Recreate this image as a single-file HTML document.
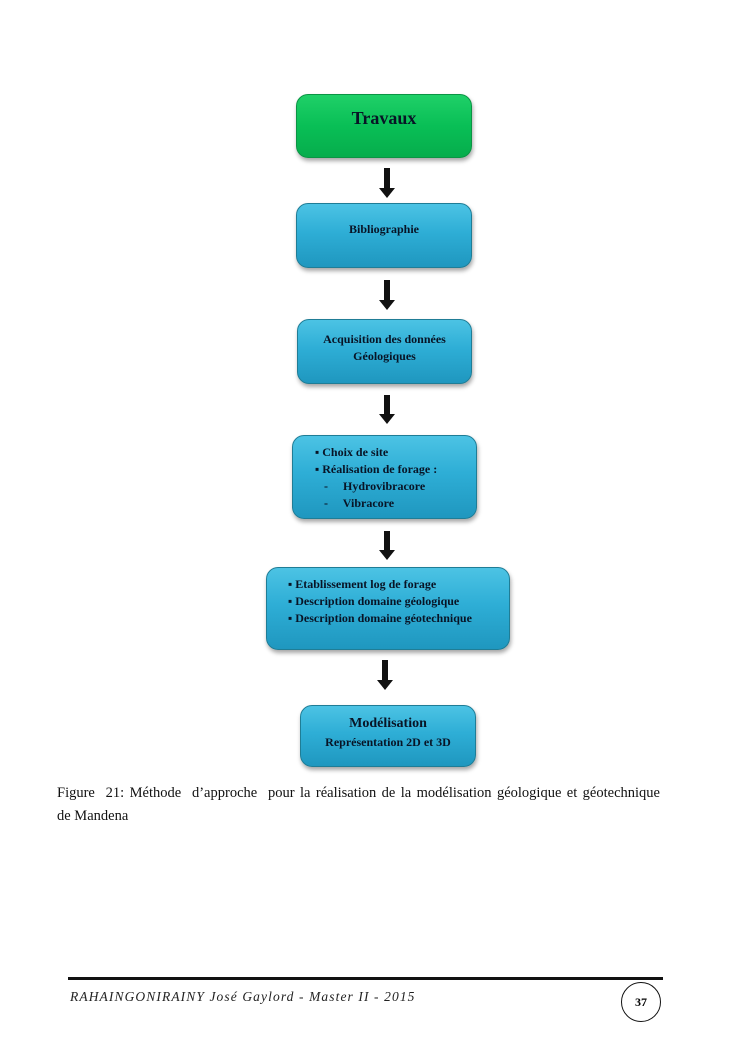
<!DOCTYPE html>
<html><head><meta charset="utf-8"><style>
html,body{margin:0;padding:0;background:#fff}
body{width:745px;height:1053px;position:relative;overflow:hidden;font-family:"Liberation Serif",serif}
.b{position:absolute;box-sizing:border-box;border-radius:12px;border:1px solid #1f7d96;
background:linear-gradient(#4cc3e4 0%,#2eaed6 45%,#1f97bf 100%);
box-shadow:1px 3px 4px rgba(0,0,0,.35);color:#081426;font-weight:bold;font-size:12px}
.g{background:linear-gradient(#1fd068 0%,#09bf56 50%,#06ad4c 100%);border-color:#0b9444}
.c{text-align:center}
.ar{position:absolute;width:6px;background:#111}
.ar:after{content:"";position:absolute;left:-5px;bottom:-9px;border-left:8px solid transparent;border-right:8px solid transparent;border-top:10px solid #111}
.t{position:absolute;font-size:14.5px;color:#111}
</style></head><body>
<div class="b g c" style="left:296px;top:94px;width:176px;height:64px;font-size:18px;padding-top:13px">Travaux</div>
<div class="b c" style="left:296px;top:203px;width:176px;height:65px;padding-top:18px">Bibliographie</div>
<div class="b c" style="left:297px;top:319px;width:175px;height:65px;padding-top:11px;line-height:17px">Acquisition des données<br>Géologiques</div>
<div class="b" style="left:292px;top:435px;width:185px;height:84px;padding:8px 0 0 22px;line-height:17px">▪ Choix de site<br>▪ Réalisation de forage :<br>&nbsp;&nbsp;&nbsp;-&nbsp;&nbsp;&nbsp;&nbsp; Hydrovibracore<br>&nbsp;&nbsp;&nbsp;-&nbsp;&nbsp;&nbsp;&nbsp; Vibracore</div>
<div class="b" style="left:266px;top:567px;width:244px;height:83px;padding:8px 0 0 21px;line-height:17px">▪ Etablissement log de forage<br>▪ Description domaine géologique<br>▪ Description domaine géotechnique</div>
<div class="b c" style="left:300px;top:705px;width:176px;height:62px;padding-top:8px;line-height:18px"><span style="font-size:14px">Modélisation</span><br>Représentation 2D et 3D</div>
<div class="ar" style="left:384px;top:168px;height:21px"></div>
<div class="ar" style="left:384px;top:280px;height:21px"></div>
<div class="ar" style="left:384px;top:395px;height:20px"></div>
<div class="ar" style="left:384px;top:531px;height:20px"></div>
<div class="ar" style="left:382px;top:660px;height:21px"></div>
<div class="t" style="left:57px;top:785px;width:603px;text-align:justify;text-align-last:justify">Figure&nbsp; 21: Méthode&nbsp; d’approche&nbsp; pour la réalisation de la modélisation géologique et géotechnique</div>
<div class="t" style="left:57px;top:808px">de Mandena</div>
<div style="position:absolute;left:68px;top:977px;width:595px;height:3px;background:#111"></div>
<div style="position:absolute;left:70px;top:989px;font-size:13.5px;font-style:italic;color:#222;letter-spacing:1.1px">RAHAINGONIRAINY José Gaylord - Master II - 2015</div>
<div style="position:absolute;left:621px;top:982px;width:40px;height:40px;box-sizing:border-box;border:1.5px solid #111;border-radius:50%;text-align:center;line-height:38px;font-weight:bold;font-size:12px">37</div>
</body></html>
